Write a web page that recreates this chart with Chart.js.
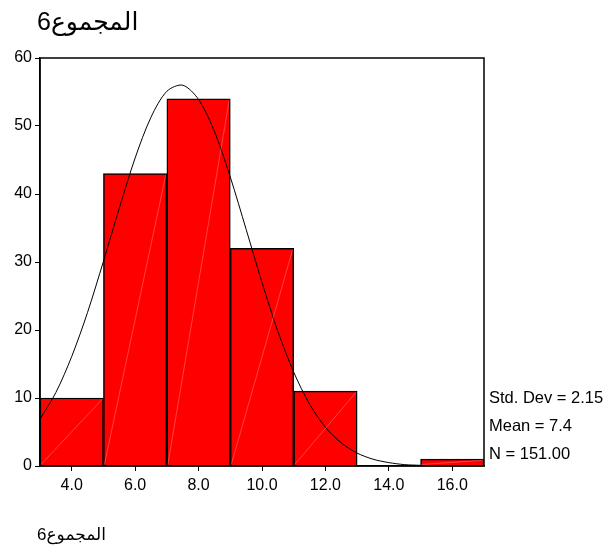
<!DOCTYPE html>
<html>
<head>
<meta charset="utf-8">
<script src="https://cdn.jsdelivr.net/npm/chart.js@4"></script>
<style>
  body { margin: 0; background: #fff; }
  #wrap { position: relative; width: 610px; height: 550px; }
</style>
</head>
<body>
<div id="wrap"><canvas id="chart" width="610" height="550"></canvas></div>
<script>
// histogram bins (centres) and counts
const binCenters = [4, 6, 8, 10, 12, 14, 16];
const counts = [10, 43, 54, 32, 11, 0, 1];

// normal curve
const curveX = [3, 3.5, 4, 4.5, 5, 5.5, 6, 6.5, 7, 7.5, 8, 8.5, 9, 9.5, 10, 10.5, 11, 11.5, 12, 12.5, 13, 13.5, 14, 14.5, 15];
const curveY = [6.9, 10.8, 16.1, 22.6, 30.1, 37.9, 45.3, 51.3, 55.1, 56.0, 53.9, 49.2, 42.5, 34.8, 27.0, 19.8, 13.8, 9.1, 5.7, 3.4, 1.9, 1.0, 0.5, 0.2, 0.1];

const xTicks = [4, 6, 8, 10, 12, 14, 16];
const statLines = ["Std. Dev = 2.15", "Mean = 7.4", "N = 151.00"];
const varName = "المجموع6";

const FONT = "Arial, 'Liberation Sans', 'DejaVu Sans', sans-serif";

const extras = {
  id: "extras",
  afterDatasetsDraw(chart) {
    const ctx = chart.ctx;
    // faint diagonal in each bar
    const meta = chart.getDatasetMeta(1);
    ctx.save();
    ctx.strokeStyle = "rgba(255,200,200,0.55)";
    ctx.lineWidth = 0.6;
    meta.data.forEach((bar) => {
      const p = bar.getProps(["x", "y", "base", "width"], true);
      if (Math.abs(p.base - p.y) < 1) return;
      const l = p.x - p.width / 2, r = p.x + p.width / 2;
      ctx.beginPath();
      ctx.moveTo(l + 1, p.base - 1);
      ctx.lineTo(r - 1, p.y + 1);
      ctx.stroke();
    });
    ctx.restore();
  },
  afterDraw(chart) {
    const ctx = chart.ctx;
    const a = chart.chartArea;
    ctx.save();
    ctx.strokeStyle = "#000";
    ctx.lineWidth = 1.5;
    ctx.strokeRect(a.left, a.top, a.right - a.left, a.bottom - a.top);

    ctx.fillStyle = "#000";
    ctx.textBaseline = "middle";
    ctx.textAlign = "left";
    ctx.font = "16.5px " + FONT;
    statLines.forEach((s, i) => ctx.fillText(s, 489, 398 + i * 28));

    ctx.direction = "rtl";
    ctx.textAlign = "left";
    ctx.font = "25px " + FONT;
    ctx.fillText(varName, 37, 23);

    ctx.font = "17px " + FONT;
    ctx.fillText(varName, 37, 535);
    ctx.restore();
  }
};

new Chart(document.getElementById("chart"), {
  data: {
    datasets: [
      {
        type: "line",
        data: curveX.map((x, i) => ({ x, y: curveY[i] })),
        borderColor: "#000",
        borderWidth: 1,
        pointRadius: 0,
        tension: 0.3,
        order: 0
      },
      {
        type: "bar",
        data: binCenters.map((x, i) => ({ x, y: counts[i] })),
        backgroundColor: "#ff0000",
        borderColor: "#000",
        borderWidth: 1.5,
        barPercentage: 1,
        categoryPercentage: 1,
        order: 1
      }
    ]
  },
  options: {
    responsive: false,
    animation: false,
    layout: { padding: { top: 58, right: 126, bottom: 54, left: 0 } },
    plugins: { legend: { display: false }, tooltip: { enabled: false } },
    scales: {
      x: {
        type: "linear",
        offset: false,
        min: 3,
        max: 17,
        afterBuildTicks: (s) => { s.ticks = xTicks.map((v) => ({ value: v })); },
        afterFit: (s) => { s.height = 30; },
        ticks: {
          color: "#000",
          font: { size: 16, family: FONT },
          padding: 5,
          maxRotation: 0,
          callback: (v) => Number(v).toFixed(1)
        },
        grid: { offset: false, drawOnChartArea: false, drawTicks: true, tickLength: 5, color: "#000" },
        border: { display: true, color: "#000", width: 1.5 }
      },
      y: {
        min: 0,
        max: 60,
        afterFit: (s) => { s.width = 40; },
        ticks: {
          stepSize: 10,
          color: "#000",
          font: { size: 16, family: FONT },
          padding: 3
        },
        grid: { drawOnChartArea: false, drawTicks: true, tickLength: 5, color: "#000" },
        border: { display: true, color: "#000", width: 1.5 }
      }
    }
  },
  plugins: [extras]
});
</script>
</body>
</html>
